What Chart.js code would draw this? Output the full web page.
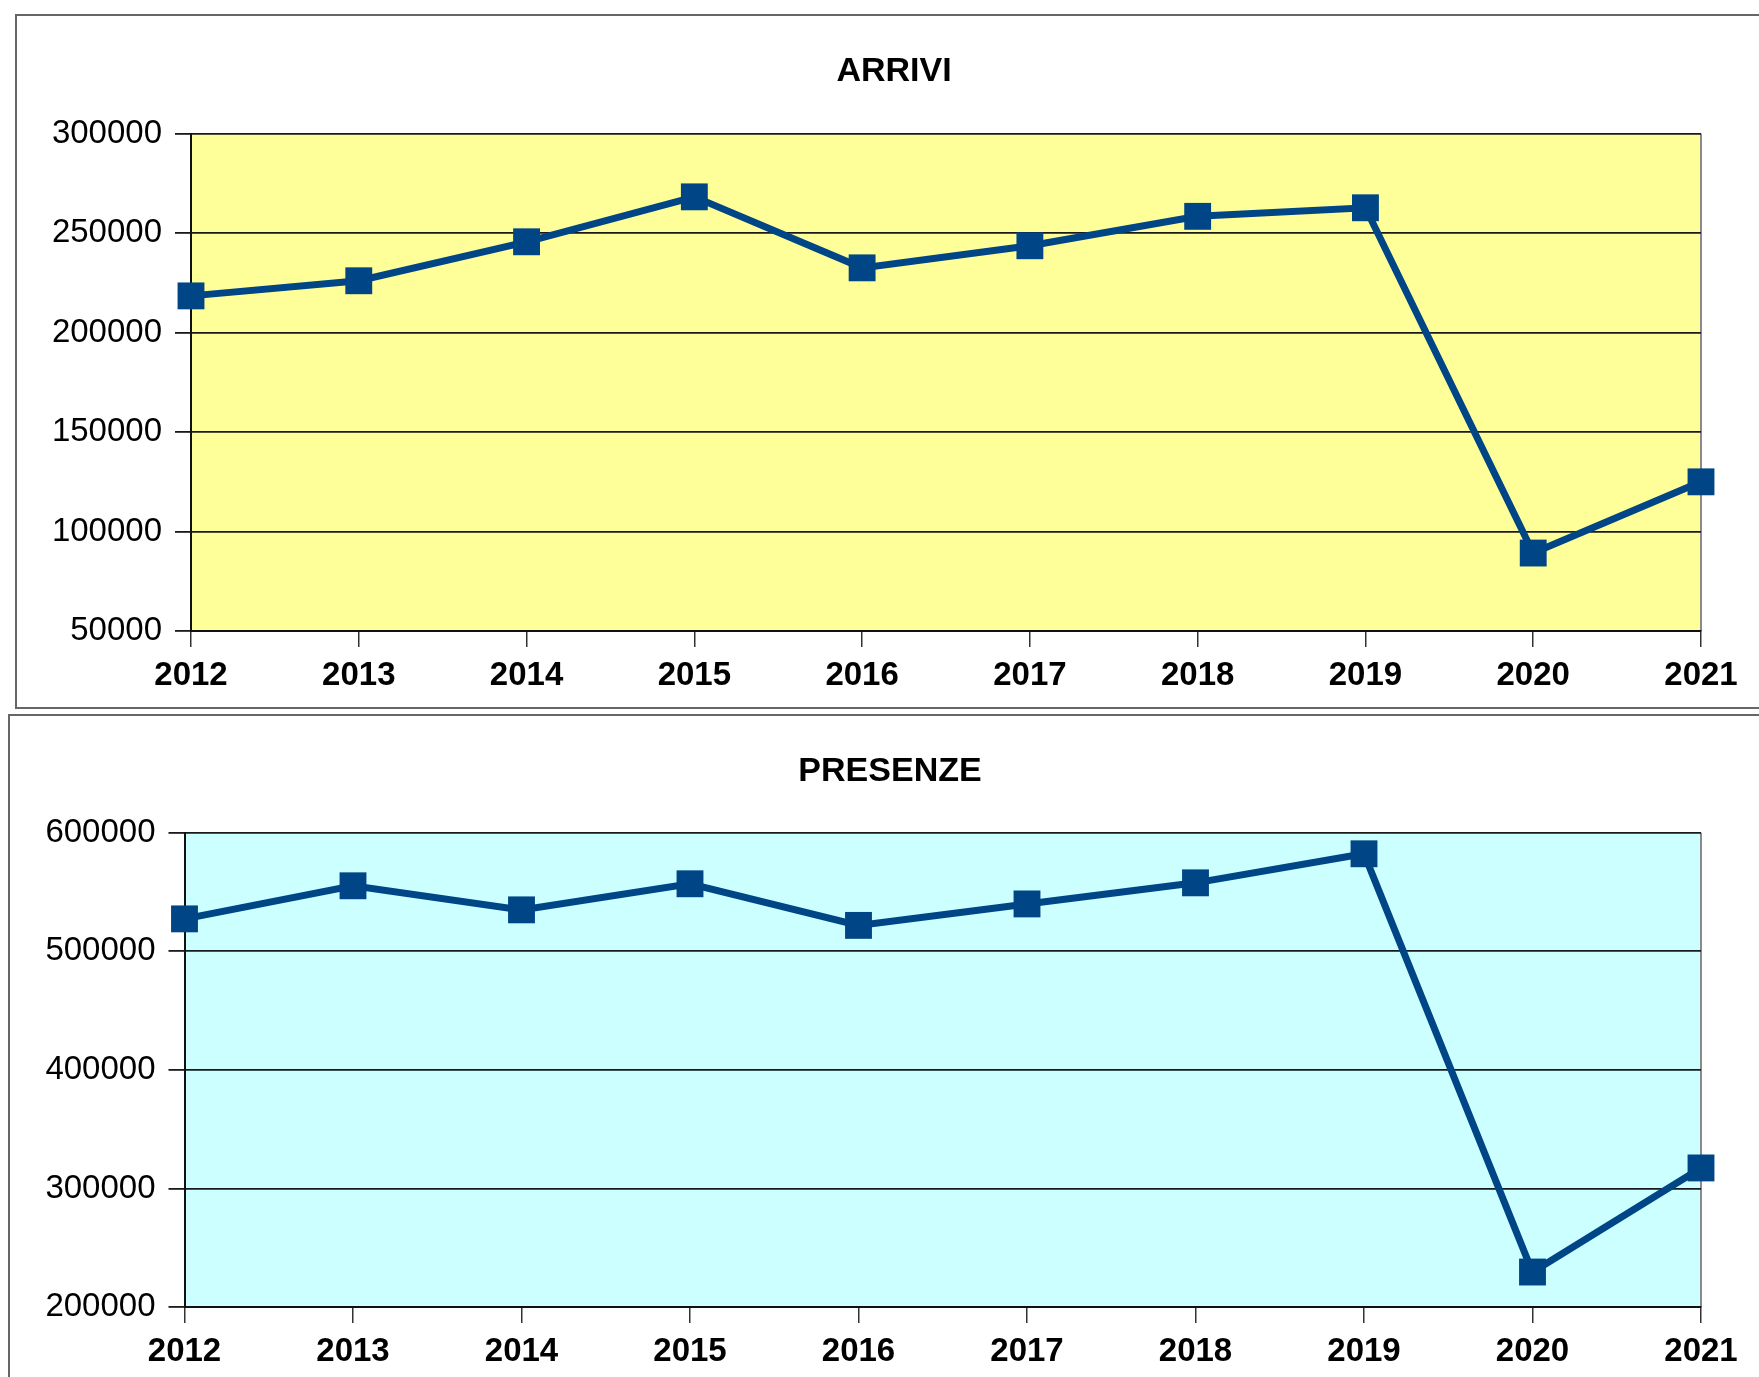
<!DOCTYPE html>
<html>
<head>
<meta charset="utf-8">
<title>Arrivi e presenze</title>
<script src="https://cdn.jsdelivr.net/npm/chart.js@4.4.1/dist/chart.umd.min.js"></script>
<style>
  body { margin: 0; background: #fff; width: 1759px; height: 1377px; overflow: hidden; position: relative; }
  .riquadro { position: absolute; border: 2px solid #666; box-sizing: border-box; }
  #box-arrivi { left: 15px; top: 14px; width: 1760px; height: 695px; }
  #box-presenze { left: 8px; top: 714px; width: 1766px; height: 720px; }
  canvas { position: absolute; }
  #grafico-arrivi { left: 16px; top: 15px; }
  #grafico-presenze { left: 9px; top: 715px; }
</style>
</head>
<body>
<div class="riquadro" id="box-arrivi"></div>
<div class="riquadro" id="box-presenze"></div>
<canvas id="grafico-arrivi" width="1756" height="693"></canvas>
<canvas id="grafico-presenze" width="1762" height="700"></canvas>

<script>
// dati
const anni = ['2012', '2013', '2014', '2015', '2016', '2017', '2018', '2019', '2020', '2021'];
const arrivi = [218500, 226100, 245700, 268300, 232600, 243700, 258500, 262800, 89200, 125000];
const presenze = [527400, 555300, 535000, 557000, 521900, 540000, 557800, 582300, 229500, 317300];

const BLU = '#004586';
const FONT = "'Liberation Sans', Arial, sans-serif";

// sfondo dell'area del grafico + bordo destro grigio
const sfondo = {
  id: 'sfondo',
  beforeDraw(chart, args, opts) {
    const ctx = chart.ctx;
    const a = chart.chartArea;
    ctx.save();
    ctx.fillStyle = opts.color;
    ctx.fillRect(a.left, a.top, a.right - a.left, a.bottom - a.top);
    ctx.strokeStyle = '#8a8a8a';
    ctx.lineWidth = 2;
    ctx.beginPath();
    ctx.moveTo(a.right, a.top);
    ctx.lineTo(a.right, a.bottom);
    ctx.stroke();
    ctx.restore();
  }
};

// larghezzaY = spazio a sinistra per l'asse, margineDx = spazio vuoto a destra
function opzioni(titolo, colore, min, max, step, larghezzaY, margineDx, sotto, padTitolo) {
  return {
    responsive: false,
    animation: false,
    layout: { padding: { left: 0, right: 0, top: 0, bottom: sotto } },
    plugins: {
      legend: { display: false },
      tooltip: { enabled: false },
      sfondo: { color: colore },
      title: {
        display: true,
        text: titolo,
        color: '#000',
        font: { family: FONT, size: 34, weight: 'bold' },
        padding: padTitolo,
      },
    },
    scales: {
      x: {
        grid: { drawOnChartArea: false, tickLength: 16, color: '#333', lineWidth: 1.5 },
        border: { color: '#111', width: 2 },
        ticks: { color: '#000', font: { family: FONT, size: 33, weight: 'bold' }, padding: 9, maxRotation: 0, autoSkip: false },
        afterFit: (s) => { s.height = 63; },
      },
      y: {
        min: min,
        max: max,
        grid: { tickLength: 16, color: '#1a1a1a', lineWidth: 1.8 },
        border: { color: '#111', width: 2 },
        ticks: {
          stepSize: step,
          color: '#000',
          font: { family: FONT, size: 33 },
          padding: 13,
          callback: (v) => String(v),
        },
        afterFit: (s) => { s.width = larghezzaY; },
      },
      // asse vuoto a destra, serve solo a lasciare il margine
      margine: {
        type: 'linear',
        position: 'right',
        grid: { display: false },
        border: { display: false },
        ticks: { display: false },
        afterFit: (s) => { s.width = margineDx; },
      },
    },
  };
}

function serie(valori) {
  return {
    data: valori,
    borderColor: BLU,
    borderWidth: 7,
    backgroundColor: BLU,
    pointStyle: 'rect',
    pointRadius: 19,
    pointBorderWidth: 0,
    pointBackgroundColor: BLU,
    tension: 0,
    clip: false,
  };
}

// ARRIVI
var ctx = document.getElementById('grafico-arrivi').getContext('2d');
new Chart(ctx, {
  type: 'line',
  data: { labels: anni, datasets: [serie(arrivi)] },
  options: opzioni('ARRIVI', '#ffff99', 50000, 300000, 50000, 175, 71, 14, { top: 36, bottom: 42 }),
  plugins: [sfondo],
});

// PRESENZE
var ctx = document.getElementById('grafico-presenze').getContext('2d');
new Chart(ctx, {
  type: 'line',
  data: { labels: anni, datasets: [serie(presenze)] },
  options: opzioni('PRESENZE', '#ccffff', 200000, 600000, 100000, 175.5, 70, 45, { top: 36, bottom: 41 }),
  plugins: [sfondo],
});
</script>
</body>
</html>
